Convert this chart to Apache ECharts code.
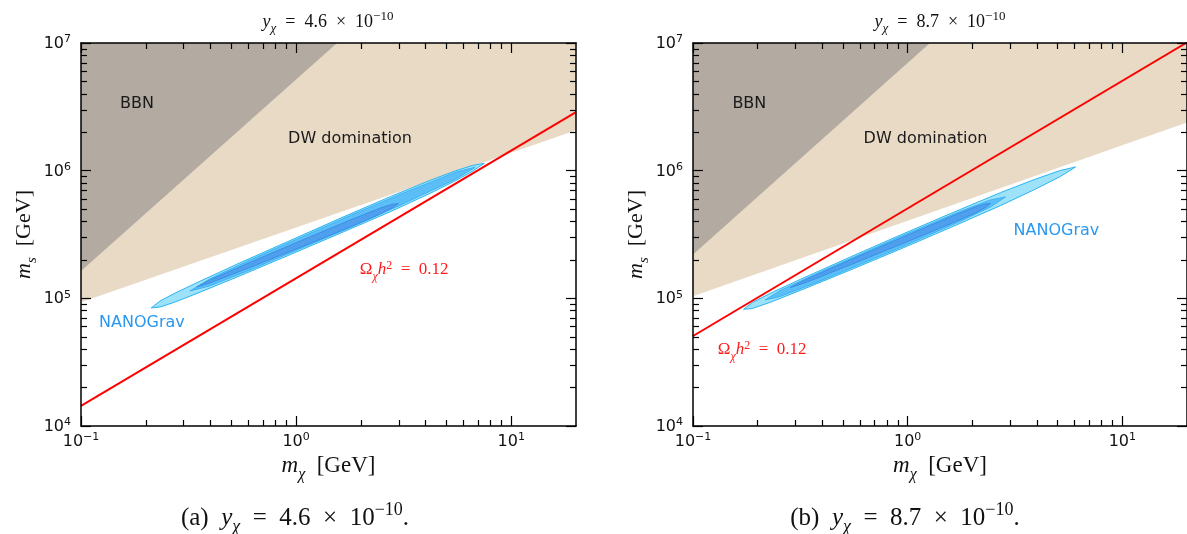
<!DOCTYPE html>
<html>
<head>
<meta charset="utf-8">
<script src="https://cdn.jsdelivr.net/npm/echarts@6/dist/echarts.min.js"></script>
<style>
  html, body { margin: 0; padding: 0; background: #fff; }
  #chart { width: 1187px; height: 534px; }
</style>
</head>
<body>
<div id="chart"></div>
<script>
// ticks (log axes)
var xMajor = [0.1, 1, 10];
var xMinor = [0.2, 0.3, 0.4, 0.5, 0.6, 0.7, 0.8, 0.9, 2, 3, 4, 5, 6, 7, 8, 9];
var yMajor = [1e4, 1e5, 1e6, 1e7];
var yMinor = [2e4, 3e4, 4e4, 5e4, 6e4, 7e4, 8e4, 9e4,
              2e5, 3e5, 4e5, 5e5, 6e5, 7e5, 8e5, 9e5,
              2e6, 3e6, 4e6, 5e6, 6e6, 7e6, 8e6, 9e6];

// panel (a)  y_chi = 4.6e-10
var bbnA = [[0.1, 1.64e5], [1.55, 1e7], [0.1, 1e7]];
var dwA = [[0.1, 9.3e4], [20, 2.07e6], [20, 1e7], [0.1, 1e7]];
var relicA = [[0.1, 1.44e4], [20, 2.88e6]];
var nanoOuterA = [[0.212, 84100], [0.233, 95300], [0.274, 110000], [0.358, 136300], [0.549, 190000],
  [0.938, 283600], [1.60, 423000], [2.74, 626000], [4.20, 841000], [5.49, 996000], [6.59, 1098000],
  [7.49, 1142000], [6.59, 986000], [5.49, 832000], [4.20, 665000], [2.74, 477000], [1.60, 323000],
  [0.938, 220000], [0.549, 150300], [0.358, 111800], [0.274, 93600], [0.233, 85500]];
var nanoMidA = [[0.321, 114200], [0.398, 142200], [0.611, 199900], [1.044, 298500], [1.783, 445600],
  [2.981, 643200], [5.49, 969800], [6.80, 1065000], [5.49, 854900], [2.981, 527500], [1.783, 358900],
  [1.044, 244700], [0.611, 167000], [0.398, 125400]];
var nanoInnerA = [[0.345, 122900], [0.398, 139400], [0.611, 191200], [1.044, 281200], [1.783, 410500],
  [2.459, 508900], [2.796, 544700], [2.99, 552700], [2.796, 510500], [2.459, 456700], [1.783, 361800],
  [1.044, 250500], [0.611, 174800], [0.398, 132000]];
var labelsA = [
  { text: 'BBN', at: [0.182, 3.31e6] },
  { text: 'DW domination', at: [1.78, 1.79e6] },
  { text: 'NANOGrav', at: [0.192, 6.38e4] },
  { text: 'relic', at: [3.18, 1.64e5] }
];

// panel (b)  y_chi = 8.7e-10
var bbnB = [[0.1, 2.2e5], [1.27, 1e7], [0.1, 1e7]];
var dwB = [[0.1, 1.04e5], [20, 2.38e6], [20, 1e7], [0.1, 1e7]];
var relicB = [[0.1, 5.07e4], [20, 1.01e7]];
var nanoOuterB = [[0.172, 82100], [0.189, 92800], [0.229, 109500], [0.316, 140700], [0.541, 210900],
  [0.925, 313300], [1.582, 461100], [2.705, 672900], [3.938, 858600], [5.151, 1004700], [6.05, 1069000],
  [5.151, 901800], [3.938, 716900], [2.705, 532300], [1.582, 358300], [0.925, 243300], [0.541, 166800],
  [0.316, 115400], [0.229, 93100], [0.189, 83200]];
var nanoMidB = [[0.217, 97200], [0.255, 115200], [0.392, 161100], [0.925, 304900], [1.761, 480600],
  [2.430, 589800], [2.854, 622000], [2.430, 520000], [1.761, 401300], [0.925, 250000], [0.392, 136900],
  [0.255, 103400]];
var nanoInnerB = [[0.284, 121500], [0.334, 139900], [0.541, 200200], [0.925, 296100], [1.582, 434700],
  [2.069, 520600], [2.303, 549500], [2.430, 552700], [2.303, 515000], [2.069, 467200], [1.582, 383200],
  [0.925, 263800], [0.541, 183000], [0.334, 132500]];
var labelsB = [
  { text: 'BBN', at: [0.183, 3.31e6] },
  { text: 'DW domination', at: [1.21, 1.79e6] },
  { text: 'NANOGrav', at: [4.93, 3.35e5] },
  { text: 'relic', at: [0.210, 3.87e4] }
];

var titles = ['4.6', '8.7'];

var SERIF = 'Liberation Serif';
var SANS = 'DejaVu Sans';
var SP = '\u2002'; // wider space around math operators

function mathRich(size, color) {
  var pb = Math.round(size * 0.22);
  var small = Math.round(size * 0.7);
  return {
    i: { fontFamily: SERIF, fontStyle: 'italic', fontSize: size, color: color, fill: color, verticalAlign: 'bottom', padding: [0, 0, pb, 0] },
    n: { fontFamily: SERIF, fontSize: size, color: color, fill: color, verticalAlign: 'bottom', padding: [0, 0, pb, 0] },
    sub: { fontFamily: SERIF, fontStyle: 'italic', fontSize: small, color: color, fill: color, verticalAlign: 'bottom', padding: [0, 0, 0, 0] },
    sup: { fontFamily: SERIF, fontSize: small, color: color, fill: color, verticalAlign: 'bottom', padding: [0, 0, pb + Math.round(size * 0.42), 0] }
  };
}

var tickRich = {
  b: { fontFamily: SANS, fontSize: 16, color: '#111', verticalAlign: 'bottom' },
  s: { fontFamily: SANS, fontSize: 11, color: '#111', verticalAlign: 'bottom', padding: [0, 0, 7, 0] }
};
function powLabel(v) {
  var e = Math.round(Math.log10(v));
  return '{b|10}{s|' + String(e).replace('-', '\u2212') + '}';
}

var grids = [
  { left: 81, top: 43, width: 495, height: 383 },
  { left: 693, top: 43, width: 494, height: 383 }
];

var xAxes = [], yAxes = [];
grids.forEach(function (g, gi) {
  var line = { show: true, lineStyle: { color: '#000', width: 1.5 } };
  var noLine = { show: false };
  var tickMaj = function (vals) { return { show: true, inside: true, length: 10, customValues: vals, lineStyle: { color: '#000', width: 1.2 } }; };
  var tickMin = function (vals) { return { show: true, inside: true, length: 6, customValues: vals, lineStyle: { color: '#000', width: 1.2 } }; };
  var base = { gridIndex: gi, type: 'log', logBase: 10, min: 0.1, max: 20, splitLine: { show: false }, z: 10 };
  xAxes.push(Object.assign({}, base, {
    position: 'bottom', axisLine: line, axisTick: tickMaj(xMajor),
    axisLabel: { show: true, customValues: xMajor, margin: 6, formatter: powLabel, rich: tickRich },
    name: '{i|m}{sub|\u03c7}{n|' + SP + '[GeV]}', nameLocation: 'middle', nameGap: 27,
    nameTextStyle: { rich: mathRich(23, '#111') }
  }));
  xAxes.push(Object.assign({}, base, { position: 'bottom', axisLine: noLine, axisTick: tickMin(xMinor), axisLabel: { show: false } }));
  xAxes.push(Object.assign({}, base, { position: 'top', axisLine: line, axisTick: tickMaj(xMajor), axisLabel: { show: false } }));
  xAxes.push(Object.assign({}, base, { position: 'top', axisLine: noLine, axisTick: tickMin(xMinor), axisLabel: { show: false } }));

  var ybase = { gridIndex: gi, type: 'log', logBase: 10, min: 1e4, max: 1e7, splitLine: { show: false }, z: 10 };
  yAxes.push(Object.assign({}, ybase, {
    position: 'left', axisLine: line, axisTick: tickMaj(yMajor),
    axisLabel: { show: true, customValues: yMajor, margin: 10, formatter: powLabel, rich: tickRich },
    name: '{i|m}{sub|s}{n|' + SP + '[GeV]}', nameLocation: 'middle', nameGap: 40, nameRotate: 90,
    nameTextStyle: { rich: mathRich(22, '#111') }
  }));
  yAxes.push(Object.assign({}, ybase, { position: 'left', axisLine: noLine, axisTick: tickMin(yMinor), axisLabel: { show: false } }));
  yAxes.push(Object.assign({}, ybase, { position: 'right', axisLine: line, axisTick: tickMaj(yMajor), axisLabel: { show: false } }));
  yAxes.push(Object.assign({}, ybase, { position: 'right', axisLine: noLine, axisTick: tickMin(yMinor), axisLabel: { show: false } }));
});

function polySeries(ai, pts, fill, stroke, z) {
  return {
    type: 'custom', xAxisIndex: ai, yAxisIndex: ai, data: pts, z: z, silent: true, clip: true,
    renderItem: function (params, api) {
      if (params.dataIndex !== 0) return null;
      return {
        type: 'polygon',
        shape: { points: pts.map(function (p) { return api.coord(p); }) },
        style: { fill: fill, stroke: stroke || null, lineWidth: stroke ? 1 : 0 }
      };
    }
  };
}

function labelSeries(ai, items) {
  return {
    type: 'custom', xAxisIndex: ai, yAxisIndex: ai, z: 20, silent: true,
    data: items.map(function (d) { return d.at; }),
    renderItem: function (params, api) {
      var d = items[params.dataIndex];
      var p = api.coord([api.value(0), api.value(1)]);
      var st = { x: 0, y: 0, align: 'center', verticalAlign: 'middle', fontFamily: SANS, fontSize: 16, fill: '#1a1a1a' };
      if (d.text === 'NANOGrav') st.fill = '#2a98f0';
      if (d.text === 'relic') {
        st.text = '{n|\u03a9}{sub|\u03c7}{i|h}{sup|2}{n|' + SP + '=' + SP + '0.12}';
        st.rich = mathRich(17, '#ff1a1a');
        st.fill = '#ff1a1a';
      } else {
        st.text = d.text;
      }
      return { type: 'text', x: p[0], y: p[1], style: st };
    }
  };
}

function panelSeries(ai, bbn, dw, relic, outer, mid, inner, labels) {
  return [
    polySeries(ai, dw, '#e8dac5', null, 1),
    polySeries(ai, bbn, '#b3aba1', null, 2),
    polySeries(ai, outer, '#9de2f9', '#2bb5f3', 3),
    polySeries(ai, mid, '#5cbef7', '#3fb1f2', 4),
    polySeries(ai, inner, '#4f9fee', '#3a8fe4', 5),
    {
      type: 'line', xAxisIndex: ai, yAxisIndex: ai, data: relic, z: 6, silent: true,
      showSymbol: false, clip: true, lineStyle: { color: '#ff0000', width: 2 }
    },
    labelSeries(ai, labels)
  ];
}

var series = [].concat(
  panelSeries(0, bbnA, dwA, relicA, nanoOuterA, nanoMidA, nanoInnerA, labelsA),
  panelSeries(4, bbnB, dwB, relicB, nanoOuterB, nanoMidB, nanoInnerB, labelsB)
);

var graphics = [];
titles.forEach(function (t, k) {
  var expr = '{i|y}{sub|\u03c7}{n|' + SP + '=' + SP + t + SP + '\u00d7' + SP + '10}{sup|\u221210}';
  graphics.push({
    type: 'text', x: [328, 940][k], y: 23, z: 30,
    style: { text: expr, rich: mathRich(18, '#111'), fill: '#111', align: 'center', verticalAlign: 'middle' }
  });
  graphics.push({
    type: 'text', x: [295, 905][k], y: 519, z: 30,
    style: { text: '{n|(' + 'ab'[k] + ')' + SP + '}' + expr + '{n|.}', rich: mathRich(25, '#111'), fill: '#111', align: 'center', verticalAlign: 'middle' }
  });
});

var chart = echarts.init(document.getElementById('chart'), null, { renderer: 'canvas' });
chart.setOption({
  animation: false,
  backgroundColor: '#fff',
  grid: grids,
  xAxis: xAxes,
  yAxis: yAxes,
  series: series,
  graphic: graphics
});
</script>
</body>
</html>
